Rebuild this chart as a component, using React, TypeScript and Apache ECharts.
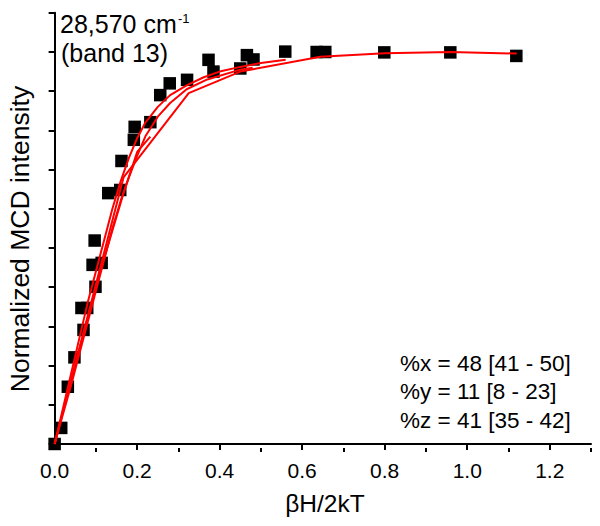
import React, { useEffect, useRef } from "react";
import * as echarts from "echarts";

// Experimental MCD saturation points (βH/2kT, normalized intensity)
const dataX = [0.0, 0.016, 0.032, 0.048, 0.070, 0.065, 0.079, 0.099, 0.092, 0.114, 0.097, 0.130, 0.159, 0.162, 0.192, 0.194, 0.232, 0.256, 0.279, 0.321, 0.373, 0.385, 0.450, 0.466, 0.482, 0.559, 0.635, 0.656, 0.799, 0.959, 1.119];
const dataY = [0.0, 0.041, 0.146, 0.221, 0.291, 0.347, 0.347, 0.401, 0.457, 0.462, 0.519, 0.640, 0.648, 0.722, 0.776, 0.809, 0.821, 0.890, 0.920, 0.929, 0.980, 0.950, 0.958, 0.992, 0.981, 1.001, 1.0, 1.0, 0.999, 0.999, 0.990];

// Fit curves (red)
const fit1X = [0, 0.02, 0.04, 0.06, 0.08, 0.10, 0.12, 0.14, 0.16, 0.18, 0.20, 0.22, 0.25, 0.28, 0.32, 0.36, 0.40, 0.45, 0.50, 0.56];
const fit1Y = [0, 0.09, 0.18, 0.27, 0.36, 0.44, 0.52, 0.60, 0.67, 0.73, 0.78, 0.82, 0.86, 0.89, 0.915, 0.935, 0.95, 0.962, 0.972, 0.98];
const fit2X = [0, 0.02, 0.04, 0.06, 0.08, 0.10, 0.12, 0.14, 0.16, 0.18, 0.20, 0.22, 0.25, 0.28, 0.32, 0.37, 0.45, 0.48];
const fit2Y = [0, 0.075, 0.15, 0.23, 0.31, 0.39, 0.47, 0.55, 0.62, 0.68, 0.735, 0.785, 0.835, 0.87, 0.905, 0.93, 0.955, 0.96];
const fit3X = [0, 0.033, 0.067, 0.10, 0.133, 0.167, 0.20, 0.232];
const fit3Y = [0, 0.135, 0.27, 0.40, 0.52, 0.64, 0.745, 0.784];
const fit4X = [0, 0.167, 0.325, 0.45, 0.644, 0.80, 0.96, 1.12];
const fit4Y = [0, 0.68, 0.895, 0.95, 0.988, 0.997, 1.0, 0.996];

const xMajorTicks = [0, 0.2, 0.4, 0.6, 0.8, 1.0, 1.2];
const xMinorTicks = [0.1, 0.3, 0.5, 0.7, 0.9, 1.1, 1.3];
const yTicks = [0, 0.1, 0.2, 0.3, 0.4, 0.5, 0.6, 0.7, 0.8, 0.9, 1.0, 1.1];

const annotationLines = ["%x = 48 [41 - 50]", "%y = 11 [8 - 23]", "%z = 41 [35 - 42]"];

const FONT = "Arial, 'Liberation Sans', sans-serif";

const zip = (xs: number[], ys: number[]) => xs.map((x, i) => [x, ys[i]]);

export default function App() {
  const ref = useRef<HTMLDivElement>(null);
  useEffect(() => {
    if (!ref.current) return;
    const chart = echarts.init(ref.current, null, { renderer: "svg" });
    const axisLineStyle = { color: "#000", width: 2 };
    const lineSeries = (xs: number[], ys: number[]) => ({
      type: "line",
      data: zip(xs, ys),
      showSymbol: false,
      symbol: "none",
      lineStyle: { color: "#ff0000", width: 2 },
      z: 3,
    });
    chart.setOption({
      animation: false,
      grid: { left: 50.5, right: 9, top: 12.8, bottom: 78.1, containLabel: false },
      xAxis: [
        {
          type: "value",
          min: -0.01,
          max: 1.3,
          axisLine: { lineStyle: axisLineStyle },
          splitLine: { show: false },
          axisTick: { customValues: xMajorTicks, length: 6, lineStyle: axisLineStyle },
          axisLabel: {
            customValues: xMajorTicks,
            formatter: (v: number) => v.toFixed(1),
            fontSize: 21,
            fontFamily: FONT,
            color: "#000",
            margin: 12,
          },
        },
        {
          type: "value",
          min: -0.01,
          max: 1.3,
          position: "bottom",
          axisLine: { show: false },
          splitLine: { show: false },
          axisTick: { customValues: xMinorTicks, length: 4, lineStyle: axisLineStyle },
          axisLabel: { show: false },
        },
      ],
      yAxis: {
        type: "value",
        min: -0.01,
        max: 1.1,
        axisLine: { lineStyle: axisLineStyle },
        splitLine: { show: false },
        axisTick: { customValues: yTicks, length: 6, lineStyle: axisLineStyle },
        axisLabel: { show: false },
      },
      series: [
        {
          type: "scatter",
          data: zip(dataX, dataY),
          symbol: "rect",
          symbolSize: 12.5,
          itemStyle: { color: "#000", opacity: 1 },
          z: 2,
        },
        lineSeries(fit1X, fit1Y),
        lineSeries(fit2X, fit2Y),
        lineSeries(fit3X, fit3Y),
        lineSeries(fit4X, fit4Y),
      ],
      graphic: [
        {
          type: "text",
          x: 20,
          y: 239,
          rotation: Math.PI / 2,
          style: { text: "Normalized MCD intensity", fontSize: 26.5, fontFamily: FONT, fill: "#000", align: "center", verticalAlign: "middle" },
        },
        {
          type: "text",
          x: 325,
          y: 503,
          style: { text: "βH/2kT", fontSize: 24.5, fontFamily: FONT, fill: "#000", align: "center", verticalAlign: "middle" },
        },
        {
          type: "text",
          x: 60,
          y: 24,
          style: { text: "28,570 cm", fontSize: 25, fontFamily: FONT, fill: "#000", align: "left", verticalAlign: "middle" },
        },
        {
          type: "text",
          x: 178,
          y: 18,
          style: { text: "-1", fontSize: 13, fontFamily: FONT, fill: "#000", align: "left", verticalAlign: "middle" },
        },
        {
          type: "text",
          x: 61,
          y: 53,
          style: { text: "(band 13)", fontSize: 25, fontFamily: FONT, fill: "#000", align: "left", verticalAlign: "middle" },
        },
        ...annotationLines.map((t, i) => ({
          type: "text",
          x: 400,
          y: 363 + i * 28.6,
          style: { text: t, fontSize: 22.5, fontFamily: FONT, fill: "#000", align: "left", verticalAlign: "middle" },
        })),
      ],
    });
    return () => chart.dispose();
  }, []);
  return <div ref={ref} style={{ position: "absolute", left: 0, top: 0, width: 600, height: 526, background: "#fff" }} />;
}
